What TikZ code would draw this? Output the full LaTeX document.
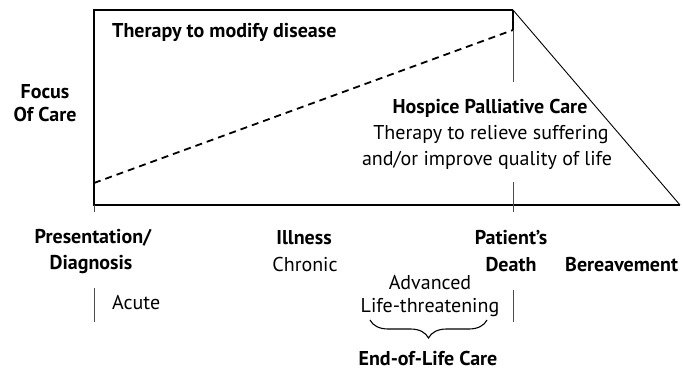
\documentclass[tikz,border=0pt]{standalone}
\usepackage{fontspec}
\setmainfont{PT Sans}
\usetikzlibrary{decorations.pathreplacing}
\begin{document}
\begin{tikzpicture}[x=1pt,y=-1pt,
  bold/.style={font=\fontsize{20}{21}\selectfont\bfseries, inner sep=0pt, align=center},
  reg/.style={font=\fontsize{20}{21}\selectfont, inner sep=0pt, align=center},
  thick line/.style={line width=1.6pt},
  thin line/.style={line width=0.9pt},
  tick/.style={line width=0.6pt, black!70}]
\useasboundingbox (0,0) rectangle (683,374);
% frame coordinates
\coordinate (tl) at (94,10);
\coordinate (tr) at (513,10);
\coordinate (bl) at (94,205);
\coordinate (br) at (680,205);
\coordinate (dashS) at (94,183);
\coordinate (dashE) at (513,30);
\coordinate (vA) at (513,82);
\coordinate (vB) at (513,182);
\coordinate (vC) at (513,212);
\coordinate (lB) at (94,212);
\coordinate (ta) at (94,288);
\coordinate (tb) at (94,322);
\coordinate (pa) at (513,290);
\coordinate (pb) at (513,322);
\coordinate (brL) at (370,320);
\coordinate (brR) at (487,320);
% frame
\draw[thick line] (tr) -- (tl) -- (bl) -- (br);
\draw[thin line] (tr) -- (br);
\draw[thick line] (tr) -- (dashE);
\draw[line width=1.8pt, dash pattern=on 7pt off 5pt] (dashS) -- (dashE);
\draw[tick] (dashE) -- (vA);
\draw[tick] (vB) -- (vC);
\draw[tick] (bl) -- (lB);
\draw[tick] (ta) -- (tb);
\draw[tick] (pa) -- (pb);
% texts
\node[bold, anchor=west] (mod) at (112,32) {Therapy to modify disease};
\node[bold] (focus) at (45,92) {Focus};
\node[bold] (ofcare) at (45,115) {Of Care};
\node[bold] (hospice) at (490,108) {Hospice Palliative Care};
\node[reg] (relieve) at (491,135) {Therapy to relieve suffering};
\node[reg] (quality) at (487,160) {and/or improve quality of life};
\node[bold] (pres) at (93,238) {Presentation/};
\node[bold] (diag) at (91,265) {Diagnosis};
\node[reg, anchor=west] (acute) at (112,303) {Acute};
\node[bold] (ill) at (304,238) {Illness};
\node[reg] (chron) at (305,265) {Chronic};
\node[bold] (pat) at (511,238) {Patient's};
\node[bold] (death) at (511,265) {Death};
\node[bold, anchor=west] (ber) at (565,265) {Bereavement};
\node[reg] (adv) at (430,283) {Advanced};
\node[reg] (life) at (430,308) {Life-threatening};
\node[bold] (eol) at (428,358) {End-of-Life Care};
\draw[line width=1.1pt, decorate, decoration={brace, mirror, amplitude=18pt, aspect=0.5}] (brL) -- (brR);
\end{tikzpicture}
\end{document}
